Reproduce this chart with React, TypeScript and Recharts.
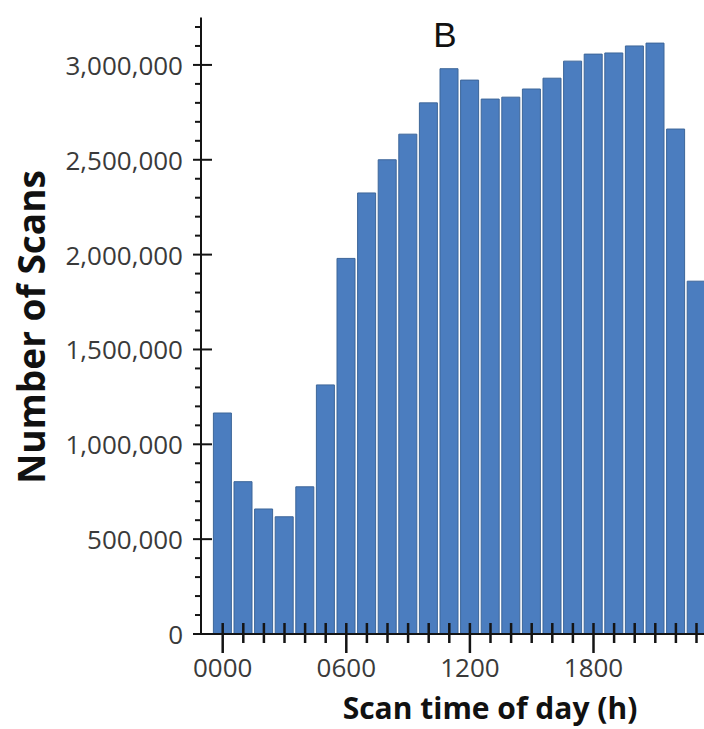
import React from 'react';
import { BarChart, Bar, XAxis, YAxis } from 'recharts';

const hours = ['0000','0100','0200','0300','0400','0500','0600','0700','0800','0900','1000','1100','1200','1300','1400','1500','1600','1700','1800','1900','2000','2100','2200','2300'];
const scans = [1165000, 803000, 659000, 618000, 776000, 1313000, 1980000, 2325000, 2500000, 2635000, 2800000, 2980000, 2920000, 2820000, 2830000, 2873000, 2930000, 3020000, 3057000, 3063000, 3100000, 3115000, 2662000, 1860000];
const labeledHours = ['0000', '0600', '1200', '1800'];
const yTicks = [0,100000,200000,300000,400000,500000,600000,700000,800000,900000,1000000,1100000,1200000,1300000,1400000,1500000,1600000,1700000,1800000,1900000,2000000,2100000,2200000,2300000,2400000,2500000,2600000,2700000,2800000,2900000,3000000,3100000,3200000];
const yMajorTicks = [0, 500000, 1000000, 1500000, 2000000, 2500000, 3000000];
const yMax = 3250000;
const chartTitle = 'B';
const xTitle = 'Scan time of day (h)';
const yTitle = 'Number of Scans';

const data = hours.map((h, i) => ({ hour: h, scans: scans[i] }));

const TICK_COLOR = '#141414';
const LABEL_COLOR = '#3a3a3a';
const FONT = '"Open Sans", "Noto Sans", sans-serif';

const XTick = (props: any) => {
  const { x, y, payload } = props;
  const major = labeledHours.includes(payload.value);
  return (
    <g>
      <line x1={x} x2={x} y1={y - 11} y2={y + (major ? 19 : 9)} stroke={TICK_COLOR} strokeWidth={2.5} />
      {major && (
        <text x={x} y={y + 43} textAnchor="middle" fontSize={26} fill={LABEL_COLOR} fontFamily={FONT}>
          {payload.value}
        </text>
      )}
    </g>
  );
};

const YTick = (props: any) => {
  const { x, y, payload } = props;
  const major = yMajorTicks.includes(payload.value);
  return (
    <g>
      <line x1={major ? x - 8 : x - 6} x2={major ? x + 11 : x + 1} y1={y} y2={y} stroke={TICK_COLOR} strokeWidth={2} />
      {major && (
        <text x={x - 18} y={y + 10} textAnchor="end" fontSize={26} fill={LABEL_COLOR} fontFamily={FONT}>
          {Number(payload.value).toLocaleString('en-US')}
        </text>
      )}
    </g>
  );
};

export default function App() {
  return (
    <div style={{ position: 'absolute', left: 0, top: 0, width: 704, height: 729, overflow: 'hidden', background: '#fff' }}>
      <BarChart
        width={720}
        height={729}
        data={data}
        margin={{ top: 17.5, right: 13.2, bottom: 0, left: 0 }}
      >
        <Bar dataKey="scans" fill="#4b7dbf" stroke="#3d6699" strokeWidth={1} barSize={18} isAnimationActive={false} />
        <XAxis
          dataKey="hour"
          interval={0}
          tickSize={0}
          tickMargin={0}
          tickLine={false}
          padding={{ left: 11.4, right: 0 }}
          height={95}
          axisLine={{ stroke: TICK_COLOR, strokeWidth: 2 }}
          tick={<XTick />}
        />
        <YAxis
          type="number"
          domain={[0, yMax]}
          ticks={yTicks}
          interval={0}
          tickSize={0}
          tickMargin={0}
          tickLine={false}
          width={201}
          allowDataOverflow
          axisLine={{ stroke: TICK_COLOR, strokeWidth: 2 }}
          tick={<YTick />}
        />
        <text x={445} y={47} textAnchor="middle" fontSize={35} fill="#111" fontFamily='"Liberation Sans", Arial, sans-serif'>
          {chartTitle}
        </text>
        <text x={490} y={719} textAnchor="middle" fontSize={30} fontWeight="bold" fill="#111" fontFamily={FONT}>
          {xTitle}
        </text>
        <text x={45} y={327} textAnchor="middle" fontSize={37} fontWeight="bold" fill="#111" fontFamily={FONT} transform="rotate(-90, 45, 327)">
          {yTitle}
        </text>
      </BarChart>
    </div>
  );
}
